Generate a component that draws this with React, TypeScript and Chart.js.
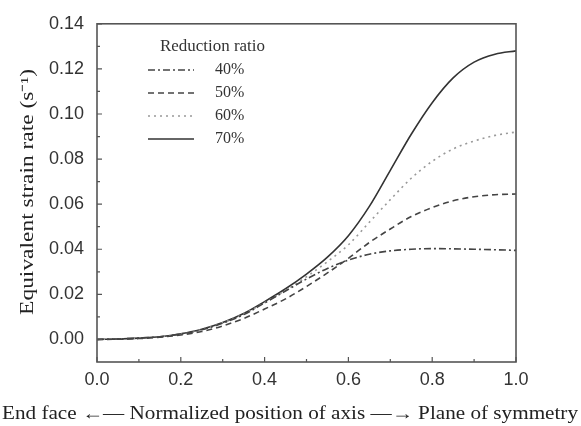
import React, { useEffect, useRef } from "react";
import { Chart, registerables } from "chart.js";

Chart.register(...registerables);

const positions = [0, 0.05, 0.1, 0.15, 0.2, 0.25, 0.3, 0.35, 0.4, 0.45, 0.5, 0.55, 0.6, 0.65, 0.7, 0.75, 0.8, 0.85, 0.9, 0.95, 1.0];

const rate40 = [0, 0.0002, 0.0006, 0.0012, 0.0024, 0.0043, 0.0072, 0.011, 0.0162, 0.0215, 0.0268, 0.0315, 0.0352, 0.0378, 0.0393, 0.040, 0.0403, 0.0402, 0.040, 0.0398, 0.0395];
const rate50 = [0, 0.0001, 0.0004, 0.001, 0.002, 0.0035, 0.006, 0.0093, 0.0135, 0.018, 0.0235, 0.0295, 0.036, 0.043, 0.049, 0.0545, 0.0585, 0.0615, 0.0633, 0.0642, 0.0645];
const rate60 = [0, 0.0002, 0.0006, 0.0012, 0.0024, 0.0044, 0.0074, 0.0113, 0.0163, 0.0218, 0.0278, 0.0345, 0.042, 0.052, 0.062, 0.0715, 0.079, 0.0845, 0.088, 0.0905, 0.092];
const rate70 = [0, 0.0002, 0.0006, 0.0012, 0.0025, 0.0045, 0.0075, 0.0115, 0.0168, 0.0225, 0.029, 0.0365, 0.046, 0.059, 0.075, 0.091, 0.105, 0.116, 0.123, 0.1265, 0.128];

const seriesLabels = ["40%", "50%", "60%", "70%"];
const legendTitle = "Reduction ratio";
const xTicks = [0, 0.2, 0.4, 0.6, 0.8, 1.0];
const xMinorTicks = [0.1, 0.3, 0.5, 0.7, 0.9];
const yTicks = [0, 0.02, 0.04, 0.06, 0.08, 0.1, 0.12, 0.14];
const yMinorTicks = [0.01, 0.03, 0.05, 0.07, 0.09, 0.11, 0.13];
const xTitle = "End face \u2190\u2014 Normalized position of axis \u2014\u2192 Plane of symmetry";
const yTitle = "Equivalent strain rate (s\u207B\u00B9)";

const frameColor = "#555";
const serif = "'Liberation Serif', 'Times New Roman', serif";

const framePlugin = {
  id: "framePlugin",
  afterDraw(chart: any) {
    const { ctx, chartArea } = chart;
    const xs = chart.scales.x;
    const ys = chart.scales.y;
    ctx.save();
    ctx.strokeStyle = frameColor;
    ctx.lineWidth = 1.6;
    ctx.strokeRect(chartArea.left, chartArea.top, chartArea.right - chartArea.left, chartArea.bottom - chartArea.top);
    ctx.lineWidth = 1.2;
    ctx.beginPath();
    xTicks.forEach((v) => {
      const px = xs.getPixelForValue(v);
      ctx.moveTo(px, chartArea.bottom);
      ctx.lineTo(px, chartArea.bottom - 5);
    });
    xMinorTicks.forEach((v) => {
      const px = xs.getPixelForValue(v);
      ctx.moveTo(px, chartArea.bottom);
      ctx.lineTo(px, chartArea.bottom - 3);
    });
    yTicks.forEach((v) => {
      const py = ys.getPixelForValue(v);
      ctx.moveTo(chartArea.left, py);
      ctx.lineTo(chartArea.left + 5, py);
    });
    yMinorTicks.forEach((v) => {
      const py = ys.getPixelForValue(v);
      ctx.moveTo(chartArea.left, py);
      ctx.lineTo(chartArea.left + 3, py);
    });
    ctx.stroke();

    // axis titles, stretched along the text direction like the reference
    ctx.fillStyle = "#222";
    ctx.font = "18px " + serif;
    ctx.textAlign = "center";
    ctx.textBaseline = "middle";
    let w = ctx.measureText(xTitle).width;
    ctx.save();
    ctx.translate(290, 414);
    ctx.scale(576 / w, 1);
    ctx.fillText(xTitle, 0, 0);
    ctx.restore();
    w = ctx.measureText(yTitle).width;
    ctx.save();
    ctx.translate(28, (chartArea.top + chartArea.bottom) / 2 - 1);
    ctx.rotate(-Math.PI / 2);
    ctx.scale(246 / w, 1);
    ctx.fillText(yTitle, 0, 0);
    ctx.restore();
    ctx.restore();
  },
};

const legendPlugin = {
  id: "insideLegend",
  afterDatasetsDraw(chart: any) {
    const { ctx } = chart;
    ctx.save();
    ctx.fillStyle = "#333";
    ctx.font = "16px " + serif;
    ctx.textBaseline = "middle";
    ctx.textAlign = "left";
    const tw = ctx.measureText(legendTitle).width;
    ctx.save();
    ctx.translate(160, 47);
    ctx.scale(105 / tw, 1);
    ctx.fillText(legendTitle, 0, 0);
    ctx.restore();
    const rows = [70, 93, 116, 139];
    chart.data.datasets.forEach((ds: any, i: number) => {
      const y = rows[i];
      ctx.save();
      ctx.strokeStyle = ds.borderColor;
      ctx.lineWidth = ds.borderWidth;
      ctx.setLineDash(ds.borderDash || []);
      ctx.beginPath();
      ctx.moveTo(148, y);
      ctx.lineTo(194, y);
      ctx.stroke();
      ctx.restore();
      ctx.fillText(ds.label, 215, y);
    });
    ctx.restore();
  },
};

export default function App() {
  const ref = useRef<HTMLCanvasElement | null>(null);
  useEffect(() => {
    if (!ref.current) return;
    const mk = (label: string, data: number[], color: string, dash: number[], width: number) => ({
      label,
      data: positions.map((x, i) => ({ x, y: data[i] })),
      borderColor: color,
      borderWidth: width,
      borderDash: dash,
      pointRadius: 0,
      fill: false,
      cubicInterpolationMode: "monotone" as const,
    });
    const chart = new Chart(ref.current, {
      type: "line",
      data: {
        datasets: [
          mk(seriesLabels[0], rate40, "#444", [7, 3, 2, 3], 1.6),
          mk(seriesLabels[1], rate50, "#444", [6, 4], 1.6),
          mk(seriesLabels[2], rate60, "#999", [2, 4], 1.6),
          mk(seriesLabels[3], rate70, "#333", [], 1.6),
        ],
      },
      options: {
        responsive: false,
        animation: false,
        layout: { padding: { left: 0, top: 17, right: 65, bottom: 0 } },
        plugins: { legend: { display: false }, tooltip: { enabled: false } },
        scales: {
          x: {
            type: "linear",
            min: 0,
            max: 1,
            grid: { display: false, drawTicks: false },
            border: { display: false },
            afterBuildTicks: (s: any) => {
              s.ticks = xTicks.map((v) => ({ value: v }));
            },
            afterFit: (s: any) => {
              s.height = 64;
            },
            ticks: {
              padding: 7,
              color: "#333",
              font: { family: "'Liberation Sans', Arial, sans-serif", size: 18 },
              callback: (v: any) => Number(v).toFixed(1),
            },
            title: { display: false, text: xTitle },
          },
          y: {
            type: "linear",
            min: -0.01,
            max: 0.14,
            grid: { display: false, drawTicks: false },
            border: { display: false },
            afterBuildTicks: (s: any) => {
              s.ticks = yTicks.map((v) => ({ value: v }));
            },
            afterFit: (s: any) => {
              s.width = 97;
            },
            ticks: {
              padding: 13,
              color: "#333",
              font: { family: "'Liberation Sans', Arial, sans-serif", size: 18 },
              callback: (v: any) => Number(v).toFixed(2),
            },
            title: { display: false, text: yTitle },
          },
        },
      },
      plugins: [framePlugin, legendPlugin],
    });
    return () => chart.destroy();
  }, []);
  return (
    <div style={{ position: "absolute", left: 0, top: 0, width: 581, height: 426, background: "#fff" }}>
      <canvas ref={ref} width={581} height={426} />
    </div>
  );
}
